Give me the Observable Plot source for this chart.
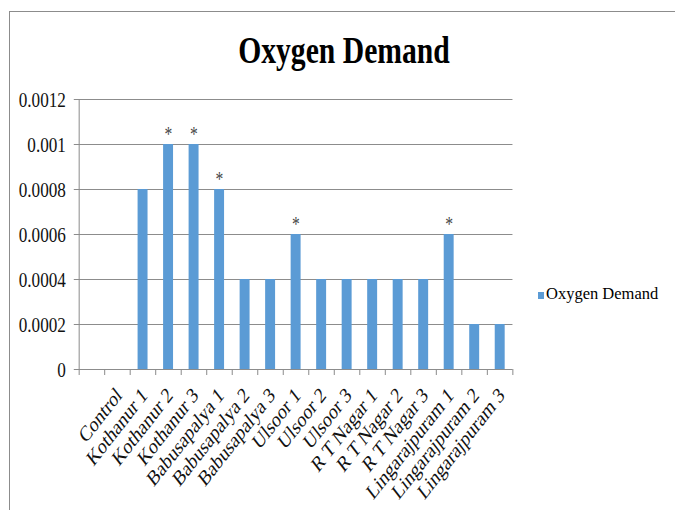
<!DOCTYPE html>
<html><head><meta charset="utf-8">
<script src="https://cdn.jsdelivr.net/npm/d3@7"></script>
<script src="https://cdn.jsdelivr.net/npm/@observablehq/plot@0.6"></script>
<style>
html,body{margin:0;padding:0;background:#fff;}
#wrap{position:relative;width:675px;height:510px;overflow:hidden;background:#fff;}
#border{position:absolute;left:9px;top:11px;width:700px;height:600px;border-top:1px solid #8c8c8c;border-left:1px solid #8c8c8c;}
#scaled{position:absolute;left:0;top:0;width:865px;height:510px;transform:scaleX(0.78);transform-origin:0 0;}
#scaled svg{position:absolute;left:0;top:0;}
#title{position:absolute;left:0;width:882px;top:31px;text-align:center;font-family:"Liberation Serif",serif;font-weight:bold;font-size:38px;line-height:38px;color:#000;}
#legsq{position:absolute;left:538px;top:292px;width:6px;height:7px;background:#5b9bd5;}
#legtx{position:absolute;left:546px;top:286px;font-family:"Liberation Serif",serif;font-size:16.5px;line-height:16.5px;color:#000;white-space:nowrap;}
</style></head>
<body>
<div id="wrap">
  <div id="border"></div>
  <div id="scaled"><div id="title">Oxygen Demand</div><div id="chart"></div></div>
  <div id="legsq"></div>
  <div id="legtx">Oxygen Demand</div>
</div>
<script>
const categories = ["", "Control", "Kothanur 1", "Kothanur 2", "Kothanur 3",
  "Babusapalya 1", "Babusapalya 2", "Babusapalya 3",
  "Ulsoor 1", "Ulsoor 2", "Ulsoor 3",
  "R T Nagar 1", "R T Nagar 2", "R T Nagar 3",
  "Lingarajpuram 1", "Lingarajpuram 2", "Lingarajpuram 3"];
const values = [null, 0, 0.0008, 0.001, 0.001, 0.0008, 0.0004, 0.0004,
  0.0006, 0.0004, 0.0004, 0.0004, 0.0004, 0.0004, 0.0006, 0.0002, 0.0002];
const significant = ["Kothanur 2", "Kothanur 3", "Babusapalya 1", "Ulsoor 1", "Lingarajpuram 1"];
const yTicks = [0, 0.0002, 0.0004, 0.0006, 0.0008, 0.001, 0.0012];
const yLabels = ["0", "0.0002", "0.0004", "0.0006", "0.0008", "0.001", "0.0012"];

const data = categories.map((c, i) => ({cat: c, value: values[i]})).filter(d => d.value != null);

const W = 865, H = 510, mL = 101, mR = 208, mT = 99, mB = 141;
const step = (W - mL - mR) / categories.length;
const frameH = H - mT - mB;
const grey = "#8c8c8c";

const chart = Plot.plot({
  width: W, height: H,
  marginLeft: mL, marginRight: mR, marginTop: mT, marginBottom: mB,
  style: {fontFamily: "'Liberation Serif', serif", background: "transparent", color: "#000"},
  x: {type: "band", domain: categories, paddingInner: 0.61, paddingOuter: 0.305, round: false, axis: null},
  y: {domain: [0, 0.0012], axis: null},
  marks: [
    Plot.ruleY(yTicks, {y: d => d, stroke: grey, strokeWidth: 1.2, insetLeft: -6.4}),
    Plot.barY(data, {x: "cat", y: "value", fill: "#5b9bd5"}),
    Plot.ruleX([categories[0]], {x: d => d, dx: -step / 2, stroke: grey, strokeWidth: 1.3, insetBottom: -6}),
    Plot.ruleX(categories.slice(1), {x: d => d, dx: -step / 2, stroke: grey, strokeWidth: 1.3, insetTop: frameH, insetBottom: -6}),
    Plot.ruleX([categories[categories.length - 1]], {x: d => d, dx: step / 2, stroke: grey, strokeWidth: 1.3, insetTop: frameH, insetBottom: -6}),
    Plot.text(yTicks, {y: d => d, text: (d, i) => yLabels[i], frameAnchor: "left", textAnchor: "end", dx: -17, fontSize: 22, fill: "#111"}),
    Plot.text(categories, {x: d => d, text: d => d, frameAnchor: "bottom", rotate: -45, textAnchor: "end", lineAnchor: "middle", dx: 2, dy: 22, fontSize: 22, fill: "#111"}),
    Plot.text(significant, {x: d => d, y: d => values[categories.indexOf(d)], text: () => "*", dy: -10, fontSize: 20, fill: "#444"})
  ]
});
document.getElementById("chart").appendChild(chart);
</script>
</body></html>
